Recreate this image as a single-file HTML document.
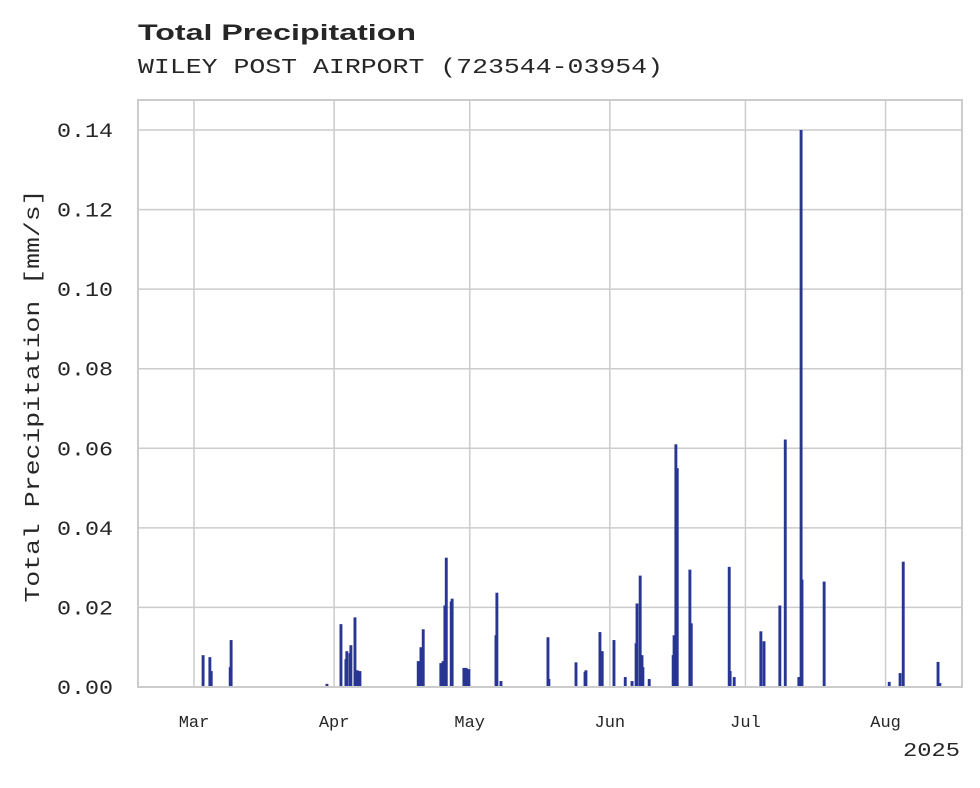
<!DOCTYPE html>
<html><head><meta charset="utf-8"><style>
body{margin:0;background:#fff;}
svg text{font-family:"Liberation Mono",monospace;fill:#262626;}
</style></head><body>
<svg width="980" height="783" xmlns="http://www.w3.org/2000/svg">
<text x="138" y="40" textLength="278" lengthAdjust="spacingAndGlyphs" style="font-family:'Liberation Sans',sans-serif;font-weight:bold;font-size:22px">Total Precipitation</text>
<text x="138" y="73" font-size="21" textLength="525" lengthAdjust="spacingAndGlyphs">WILEY POST AIRPORT (723544-03954)</text>
<rect x="138" y="100" width="824" height="587" fill="#fff" stroke="#cccccc" stroke-width="2"/>
<g id="grid"></g><g id="bars"></g><g id="axes"></g>
<text transform="translate(39,396) rotate(-90)" text-anchor="middle" font-size="21" textLength="413" lengthAdjust="spacingAndGlyphs">Total Precipitation [mm/s]</text>
<text x="960" y="756" text-anchor="end" font-size="19" textLength="57" lengthAdjust="spacingAndGlyphs">2025</text>
</svg>
<script>
const days=[2.0,3.5,3.8,8.0,8.2,29.4,32.5,33.6,33.8,34.5,34.7,35.6,36.1,36.7,49.6,50.2,50.7,54.6,55.1,55.5,55.8,56.9,57.1,59.7,60.2,60.8,66.8,67.0,67.9,78.3,78.5,84.5,86.5,86.7,89.8,90.3,92.9,95.4,96.9,97.8,98.0,98.7,99.1,99.3,100.7,106.0,106.2,106.6,106.9,109.7,110.0,118.4,118.6,119.5,125.4,126.1,129.6,130.8,133.8,134.3,134.5,139.4,153.8,156.2,156.9,164.6,165.0];
const values=[0.008,0.0075,0.004,0.005,0.0118,0.0008,0.0158,0.007,0.009,0.0085,0.0105,0.0175,0.0042,0.004,0.0065,0.01,0.0145,0.006,0.0065,0.0205,0.0325,0.0215,0.0222,0.0048,0.0048,0.0045,0.013,0.0237,0.0015,0.0125,0.002,0.0062,0.0038,0.0042,0.0138,0.009,0.0118,0.0025,0.0015,0.011,0.021,0.028,0.008,0.005,0.002,0.008,0.013,0.061,0.055,0.0295,0.016,0.0302,0.004,0.0025,0.014,0.0115,0.0205,0.0622,0.0025,0.14,0.027,0.0265,0.0013,0.0035,0.0315,0.0063,0.001];
const yTicks=[0,0.02,0.04,0.06,0.08,0.10,0.12,0.14];
const monthDays=[0,31,61,92,122,153];
const monthLabels=["Mar","Apr","May","Jun","Jul","Aug"];
const NS="http://www.w3.org/2000/svg";
const xs=d=>194+d*4.52;
const ys=v=>687-v*(557/0.14);
function mk(t,a,p){const e=document.createElementNS(NS,t);for(const k in a)e.setAttribute(k,a[k]);p.appendChild(e);return e;}
const grid=document.getElementById('grid'),bars=document.getElementById('bars'),axes=document.getElementById('axes');
yTicks.forEach(v=>{
 const l=mk('line',{x1:138,x2:962,y1:ys(v),y2:ys(v),stroke:'#cccccc','stroke-width':1.5},grid);
 
 
 const t=mk('text',{x:113,y:ys(v)+7,'text-anchor':'end','font-size':20,textLength:56,lengthAdjust:'spacingAndGlyphs'},axes);
 t.textContent=v.toFixed(2);
 
 
});
monthDays.forEach((d,i)=>{
 const l=mk('line',{x1:xs(d),x2:xs(d),y1:100,y2:687,stroke:'#cccccc','stroke-width':1.5},grid);
 
 
 const t=mk('text',{x:xs(d),y:727,'text-anchor':'middle','font-size':17},axes);
 t.textContent=monthLabels[i];
 
 
});
days.forEach((d,i)=>{
 const y=ys(values[i]);
 const r=mk('rect',{x:xs(d)-1.4,y:y,width:2.9,height:687-y,fill:'#283593'},bars);
 
 
});
const base=mk('line',{x1:138,x2:962,y1:687,y2:687,stroke:'#cccccc','stroke-width':2},axes);


</script>
</body></html>
